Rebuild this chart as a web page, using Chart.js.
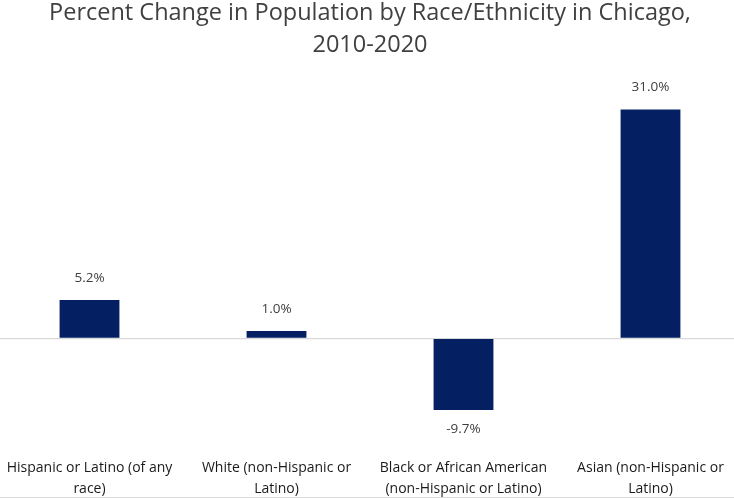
<!DOCTYPE html>
<html>
<head>
<meta charset="utf-8">
<script src="https://cdn.jsdelivr.net/npm/chart.js@4.4.1/dist/chart.umd.min.js"></script>
<style>
  html, body { margin:0; padding:0; background:#fff; overflow:hidden; }
  #frame { width:734px; height:497px; overflow:hidden; border-bottom:1px solid #d9d9d9; position:relative; }
  #wrap { position:absolute; left:-4px; top:-3px; width:748px; height:504px; }
</style>
</head>
<body>
<div id="frame"><div id="wrap"><canvas id="chart"></canvas></div></div>
<script>
// ── DATOS ─────────────────────────────────────────────
var CATEGORIES = [
  ['Hispanic or Latino (of any', 'race)'],
  ['White (non-Hispanic or', 'Latino)'],
  ['Black or African American', '(non-Hispanic or Latino)'],
  ['Asian (non-Hispanic or', 'Latino)']
];
var PCT_CHANGE = [5.2, 1.0, -9.7, 31.0];

var TITLE_LINES = ['Percent Change in Population by Race/Ethnicity in Chicago,', '2010-2020'];

var BAR_COLOR = '#042063';
var FONT = "'Open Sans', sans-serif";

// ── ETIQUETAS DE VALOR ────────────────────────────────
var valueLabels = {
  id: 'valueLabels',
  afterDatasetsDraw: function (chart) {
    var ctx = chart.ctx;
    var meta = chart.getDatasetMeta(0);
    ctx.save();
    ctx.font = '13.5px ' + FONT;
    ctx.fillStyle = '#404040';
    ctx.textAlign = 'center';
    ctx.textBaseline = 'middle';
    meta.data.forEach(function (bar, i) {
      var v = PCT_CHANGE[i];
      var y = v >= 0 ? bar.y - 22 : bar.y + 19;
      ctx.fillText(v.toFixed(1) + '%', bar.x, y);
    });
    ctx.restore();
  }
};

new Chart(document.getElementById('chart'), {
  type: 'bar',
  data: {
    labels: CATEGORIES,
    datasets: [{
      data: PCT_CHANGE,
      backgroundColor: BAR_COLOR,
      borderWidth: 0,
      barPercentage: 0.32,
      categoryPercentage: 1.0
    }]
  },
  options: {
    responsive: true,
    maintainAspectRatio: false,
    animation: false,
    layout: { padding: { left: 0, right: 0, top: 0, bottom: 0 } },
    plugins: {
      legend: { display: false },
      tooltip: { enabled: false },
      title: {
        display: true,
        text: TITLE_LINES,
        color: '#404040',
        font: { family: FONT, size: 23.5, weight: 'normal', lineHeight: 1.36 },
        padding: { top: 0, bottom: 19 }
      }
    },
    scales: {
      x: {
        grid: { display: false },
        border: { display: false },
        ticks: {
          color: '#1a1a1a',
          font: { family: FONT, size: 14, lineHeight: 1.5 },
          maxRotation: 0,
          autoSkip: false,
          padding: 1
        }
      },
      y: {
        min: -15,
        max: 35,
        ticks: { display: false, stepSize: 5 },
        border: { display: false },
        grid: {
          color: function (c) { return c.tick.value === 0 ? '#d9d9d9' : 'rgba(0,0,0,0)'; },
          lineWidth: 1.3,
          drawTicks: false
        }
      }
    }
  },
  plugins: [valueLabels]
});
</script>
</body>
</html>
